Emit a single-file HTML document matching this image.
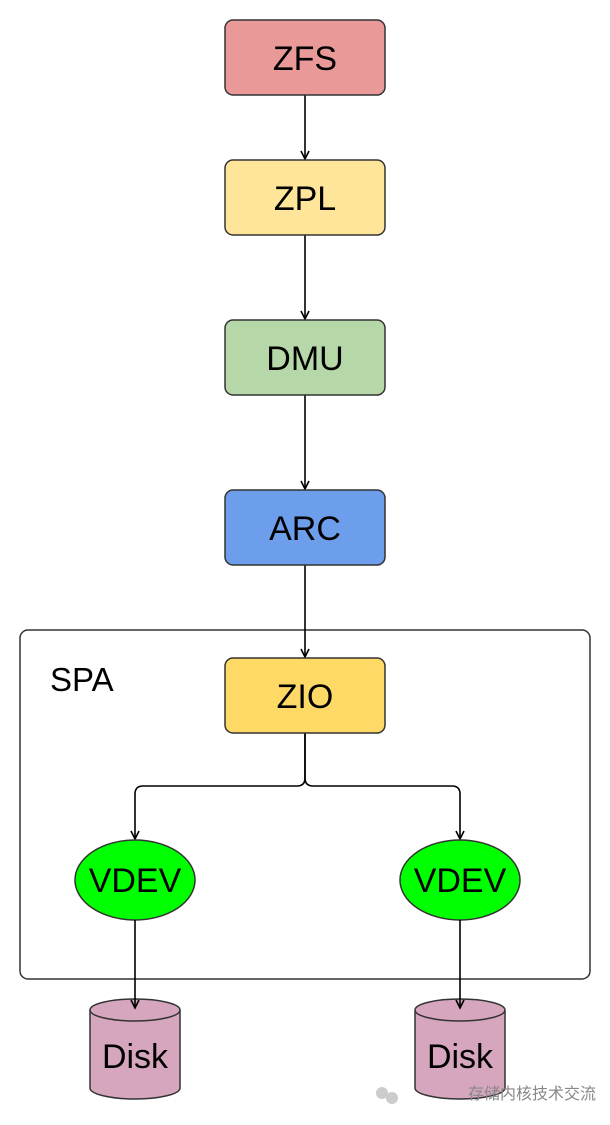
<!DOCTYPE html>
<html><head><meta charset="utf-8"><style>body{margin:0;background:#fff}</style></head><body>
<svg width="610" height="1120" viewBox="0 0 610 1120" xmlns="http://www.w3.org/2000/svg" font-family="'Liberation Sans',sans-serif">
<defs><marker id="a" markerWidth="12" markerHeight="12" refX="9" refY="5" orient="auto" markerUnits="userSpaceOnUse"><path d="M1,1 L9,5 L1,9" fill="none" stroke="#000" stroke-width="1.6"/></marker></defs>
<rect x="20" y="630" width="570" height="349" rx="8" fill="#fff" stroke="#333" stroke-width="1.5"/>
<text x="50" y="691" font-size="33">SPA</text>
<g stroke="#000" stroke-width="1.6" fill="none">
<line x1="305" y1="95" x2="305" y2="159" marker-end="url(#a)"/>
<line x1="305" y1="235" x2="305" y2="319" marker-end="url(#a)"/>
<line x1="305" y1="395" x2="305" y2="489" marker-end="url(#a)"/>
<line x1="305" y1="565" x2="305" y2="657" marker-end="url(#a)"/>
<path d="M305,733 V778 Q305,786 297,786 H143 Q135,786 135,794 V839" marker-end="url(#a)"/>
<path d="M305,733 V778 Q305,786 313,786 H452 Q460,786 460,794 V839" marker-end="url(#a)"/>
</g>
<g stroke="#333" stroke-width="1.5">
<rect x="225" y="20" width="160" height="75" rx="8" fill="#ea9999"/>
<rect x="225" y="160" width="160" height="75" rx="8" fill="#ffe599"/>
<rect x="225" y="320" width="160" height="75" rx="8" fill="#b6d7a8"/>
<rect x="225" y="490" width="160" height="75" rx="8" fill="#6d9eeb"/>
<rect x="225" y="658" width="160" height="75" rx="8" fill="#ffd966"/>
<ellipse cx="135" cy="880" rx="60" ry="40" fill="#00ff00"/>
<ellipse cx="460" cy="880" rx="60" ry="40" fill="#00ff00"/>
<path d="M90,1010 A45,11 0 0 1 180,1010 V1088 A45,11 0 0 1 90,1088 Z" fill="#d5a6bd"/>
<path d="M90,1010 A45,11 0 0 0 180,1010" fill="none"/>
<path d="M415,1010 A45,11 0 0 1 505,1010 V1088 A45,11 0 0 1 415,1088 Z" fill="#d5a6bd"/>
<path d="M415,1010 A45,11 0 0 0 505,1010" fill="none"/>
</g>
<g stroke="#000" stroke-width="1.6" fill="none">
<line x1="135" y1="920" x2="135" y2="1008" marker-end="url(#a)"/>
<line x1="460" y1="920" x2="460" y2="1008" marker-end="url(#a)"/>
</g>
<g font-size="34" text-anchor="middle" fill="#000">
<text x="305" y="70">ZFS</text>
<text x="305" y="210">ZPL</text>
<text x="305" y="370">DMU</text>
<text x="305" y="540">ARC</text>
<text x="305" y="708">ZIO</text>
<text x="135" y="892">VDEV</text>
<text x="460" y="892">VDEV</text>
<text x="135" y="1068">Disk</text>
<text x="460" y="1068">Disk</text>
</g>
<text x="468" y="1099" font-size="16" fill="#888" font-family="'Liberation Sans','Noto Sans CJK SC',sans-serif">存储内核技术交流</text>
<circle cx="382" cy="1093" r="6" fill="#ccc"/><circle cx="392" cy="1098" r="6" fill="#ccc"/>
</svg>
</body></html>
